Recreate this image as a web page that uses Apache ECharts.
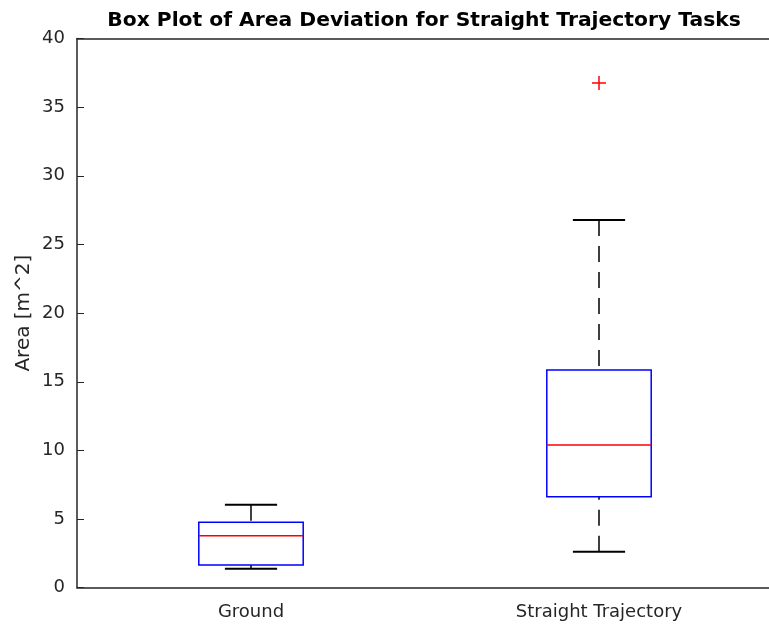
<!DOCTYPE html>
<html>
<head>
<meta charset="utf-8">
<script src="https://cdn.jsdelivr.net/npm/echarts@6/dist/echarts.min.js"></script>
<style>html,body{margin:0;padding:0;background:#fff}#c{width:769px;height:626px}</style>
</head>
<body>
<div id="c"></div>
<script>
var categories = ['Ground', 'Straight Trajectory'];
var whiskerLow = [1.38, 2.62];
var q1 = [1.65, 6.63];
var median = [3.79, 10.39];
var q3 = [4.76, 15.86];
var whiskerHigh = [6.05, 26.78];
var outliers = [[1, 36.76]];
var yTicks = [0, 40, 5];

var boxData = categories.map(function (c, i) {
  return [i, whiskerLow[i], q1[i], median[i], q3[i], whiskerHigh[i]];
});

var chart = echarts.init(document.getElementById('c'), null, {renderer: 'canvas'});
var axisColor = '#262626';
var font = 'DejaVu Sans, sans-serif';

chart.setOption({
  animation: false,
  backgroundColor: '#fff',
  title: {
    text: 'Box Plot of Area Deviation for Straight Trajectory Tasks',
    left: 419, top: 6, textAlign: 'center',
    textStyle: {fontFamily: font, fontWeight: 'bold', fontSize: 20.3, color: '#000'}
  },
  grid: {left: 77, width: 696, top: 38.5, bottom: 38.3, containLabel: false, outerBoundsMode: 'none'},
  xAxis: [{
    type: 'category', data: categories, position: 'bottom',
    axisLine: {lineStyle: {color: axisColor, width: 1.5}},
    axisTick: {inside: true, length: 7, alignWithLabel: true, lineStyle: {color: axisColor}},
    axisLabel: {margin: 16, fontFamily: font, fontSize: 18, color: axisColor},
    splitLine: {show: false}
  }, {
    type: 'category', data: categories, position: 'top',
    axisLine: {lineStyle: {color: axisColor, width: 1.5}},
    axisTick: {inside: true, length: 7, alignWithLabel: true, lineStyle: {color: axisColor}},
    axisLabel: {show: false},
    splitLine: {show: false}
  }],
  yAxis: [{
    type: 'value', min: yTicks[0], max: yTicks[1], interval: yTicks[2],
    name: 'Area [m^2]', nameLocation: 'middle', nameGap: 43, nameMoveOverlap: false,
    nameTextStyle: {fontFamily: font, fontSize: 20, color: axisColor},
    axisLine: {show: true, lineStyle: {color: axisColor, width: 1.5}},
    axisTick: {show: true, inside: true, length: 7, lineStyle: {color: axisColor}},
    axisLabel: {margin: 12, fontFamily: font, fontSize: 18, color: axisColor},
    splitLine: {show: false}
  }],
  series: [{
    type: 'custom',
    xAxisIndex: 0, yAxisIndex: 0,
    data: boxData,
    renderItem: function (params, api) {
      var idx = api.value(0);
      var band = api.size([1, 0])[0];
      var hw = band * 0.15, cw = band * 0.075;
      var pLow = api.coord([idx, api.value(1)]);
      var pQ1 = api.coord([idx, api.value(2)]);
      var pMed = api.coord([idx, api.value(3)]);
      var pQ3 = api.coord([idx, api.value(4)]);
      var pHigh = api.coord([idx, api.value(5)]);
      var x = pMed[0];
      var dash = {stroke: '#000', lineWidth: 1.5, lineDash: [16, 10]};
      var solid = {stroke: '#000', lineWidth: 2};
      return {
        type: 'group',
        children: [
          {type: 'line', shape: {x1: x, y1: pLow[1], x2: x, y2: pQ1[1]}, style: dash},
          {type: 'line', shape: {x1: x, y1: pHigh[1], x2: x, y2: pQ3[1]}, style: dash},
          {type: 'line', shape: {x1: x - cw, y1: pLow[1], x2: x + cw, y2: pLow[1]}, style: solid},
          {type: 'line', shape: {x1: x - cw, y1: pHigh[1], x2: x + cw, y2: pHigh[1]}, style: solid},
          {type: 'rect', shape: {x: x - hw, y: pQ3[1], width: hw * 2, height: pQ1[1] - pQ3[1]},
            style: {fill: 'none', stroke: '#0000ff', lineWidth: 1.5}},
          {type: 'line', shape: {x1: x - hw, y1: pMed[1], x2: x + hw, y2: pMed[1]},
            style: {stroke: '#ff0000', lineWidth: 1.5}}
        ]
      };
    }
  }, {
    type: 'custom',
    xAxisIndex: 0, yAxisIndex: 0,
    data: outliers,
    renderItem: function (params, api) {
      var p = api.coord([api.value(0), api.value(1)]);
      var s = 7;
      var st = {stroke: '#ff0000', lineWidth: 1.5};
      return {
        type: 'group',
        children: [
          {type: 'line', shape: {x1: p[0] - s, y1: p[1], x2: p[0] + s, y2: p[1]}, style: st},
          {type: 'line', shape: {x1: p[0], y1: p[1] - s, x2: p[0], y2: p[1] + s}, style: st}
        ]
      };
    }
  }]
});
</script>
</body>
</html>
